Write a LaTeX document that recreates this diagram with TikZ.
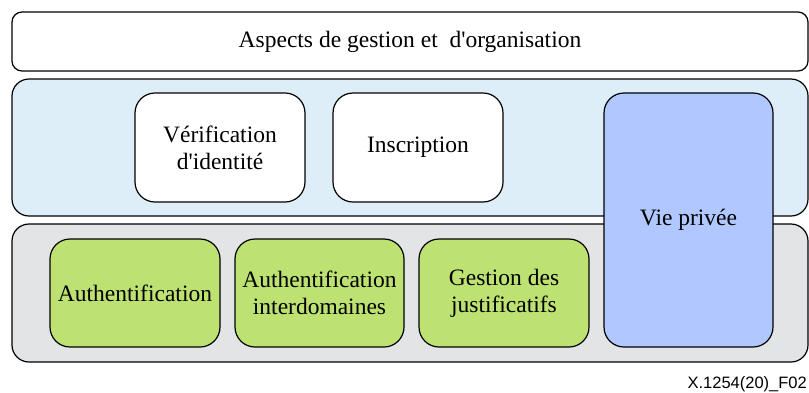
\documentclass[tikz,border=0pt]{standalone}
\usepackage{fontspec}
\setmainfont{Liberation Serif}[Ligatures=TeXOff]
\newfontfamily\figfont{Liberation Sans}
\usepackage{xcolor}
\usepackage{tikz}
\definecolor{bandblue}{HTML}{DDEEF9}
\definecolor{bandgrey}{HTML}{E3E4E6}
\definecolor{fgreen}{HTML}{BDE271}
\definecolor{privblue}{HTML}{B0C8FF}
\tikzset{
  band/.style={draw=black, line width=1.2pt, rounded corners=17pt, inner sep=0pt,
    minimum width=796pt, font=\fontsize{23.5}{27}\selectfont},
  box/.style={draw=black, line width=1.2pt, rounded corners=20pt, inner sep=0pt,
    minimum width=170pt, minimum height=108pt, align=center,
    font=\fontsize{23.5}{27}\selectfont},
  figlab/.style={font=\figfont\fontsize{16.5}{20}\selectfont, inner sep=0pt},
}

\begin{document}
\begin{tikzpicture}[x=1pt, y=-1pt]
  \useasboundingbox (0,0) rectangle (809,392);

  % the three layers
  \node[band, fill=white, rounded corners=10pt, minimum height=59pt] (mgmt) at (410,41.5)
    {Aspects de gestion et\ \ d'organisation};
  \node[band, fill=bandblue, minimum height=137pt] (upper) at (410,147.5) {};
  \node[band, fill=bandgrey, minimum height=138pt] (lower) at (410,293) {};

  % upper layer
  \node[box, fill=white, minimum height=109pt] (verif) at (220,147.5) {V\'erification\\d'identit\'e};
  \node[box, fill=white, minimum height=109pt] (inscr) at (418,147.5) {Inscription};

  % lower layer
  \node[box, fill=fgreen] (auth)  at (135,293)   {Authentification};
  \node[box, fill=fgreen, minimum width=169pt] (inter) at (319.5,293) {Authentification\\interdomaines};
  \node[box, fill=fgreen] (justif) at (504,293)  {Gestion des\\justificatifs};

  % spans both layers
  \node[box, fill=privblue, minimum width=169pt, minimum height=254pt] (priv) at (688.5,220) {Vie priv\'ee};

  \node[figlab, anchor=base east] (ref) at (807,388) {X.1254(20)\_F02};
\end{tikzpicture}
\end{document}
